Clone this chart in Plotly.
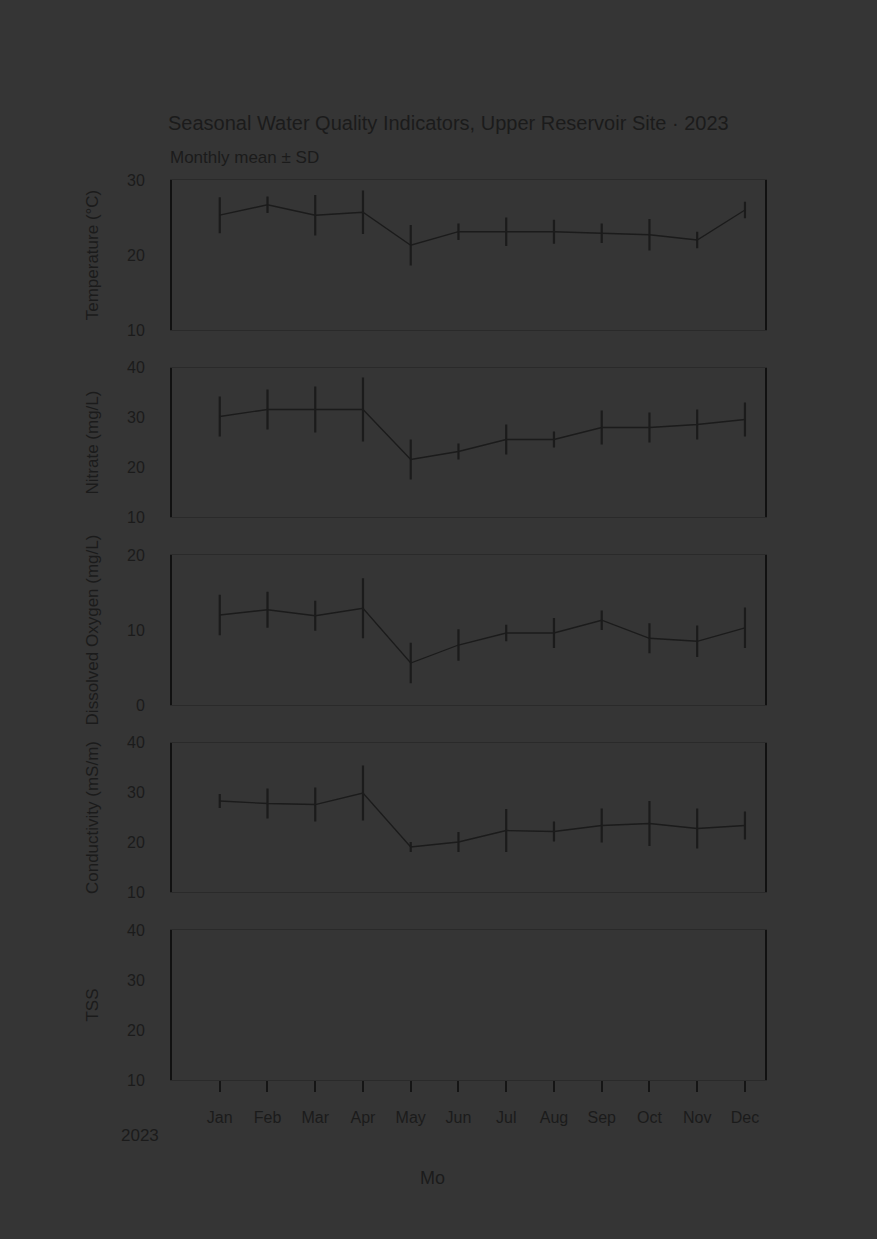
import plotly.graph_objects as go
from plotly.subplots import make_subplots

months = ["Jan", "Feb", "Mar", "Apr", "May", "Jun", "Jul", "Aug", "Sep", "Oct", "Nov", "Dec"]

temp_mean = [25.3, 26.7, 25.3, 25.7, 21.3, 23.1, 23.1, 23.1, 22.9, 22.7, 22.0, 26.0]
temp_sd = [2.4, 1.1, 2.7, 2.9, 2.7, 1.1, 1.9, 1.6, 1.3, 2.1, 1.1, 1.1]

nitrate_mean = [30.2, 31.6, 31.6, 31.6, 21.6, 23.2, 25.6, 25.6, 28.0, 28.0, 28.6, 29.6]
nitrate_sd = [4.0, 4.0, 4.6, 6.4, 4.0, 1.6, 3.0, 1.6, 3.4, 3.0, 3.0, 3.4]

do_mean = [12.0, 12.7, 11.9, 12.9, 5.6, 8.0, 9.6, 9.6, 11.3, 8.9, 8.5, 10.3]
do_sd = [2.7, 2.4, 2.0, 4.0, 2.7, 2.1, 1.1, 2.0, 1.3, 2.0, 2.1, 2.7]

cond_mean = [28.3, 27.8, 27.6, 29.9, 19.1, 20.1, 22.4, 22.2, 23.4, 23.8, 22.8, 23.4]
cond_sd = [1.4, 3.0, 3.4, 5.5, 1.0, 2.0, 4.3, 2.0, 3.4, 4.5, 4.0, 2.8]

tss_mean = [None] * 12
tss_sd = [None] * 12

y_titles = ["Temperature (°C)", "Nitrate (mg/L)", "Dissolved Oxygen (mg/L)", "Conductivity (mS/m)", "TSS"]
y_ticks = [[10, 20, 30], [10, 20, 30, 40], [0, 10, 20], [10, 20, 30, 40], [10, 20, 30, 40]]

title_text = "Seasonal Water Quality Indicators, Upper Reservoir Site · 2023"
subtitle_text = "Monthly mean ± SD"
year_label = "2023"
x_title = "Mo"

BG = "#353535"
INK = "#1b1b1b"
FONT = "Liberation Sans, Arial, sans-serif"

series = [(temp_mean, temp_sd), (nitrate_mean, nitrate_sd), (do_mean, do_sd),
          (cond_mean, cond_sd), (tss_mean, tss_sd)]

fig = make_subplots(rows=5, cols=1, shared_xaxes=True, vertical_spacing=0.0417)

for i, (m, s) in enumerate(series):
    fig.add_trace(go.Scatter(
        x=months, y=m, mode="lines",
        line=dict(color=INK, width=1.3),
        error_y=dict(type="data", array=s, visible=True, color=INK, thickness=2.2, width=0),
        showlegend=False, hoverinfo="skip"), row=i + 1, col=1)
    t = y_ticks[i]
    fig.update_yaxes(
        row=i + 1, col=1,
        range=[t[0], t[-1]], tickvals=t,
        showgrid=False, zeroline=False,
        showline=True, mirror=True, linecolor="#111111", linewidth=2,
        ticks="", ticklabelstandoff=22,
        tickfont=dict(size=16, color=INK, family=FONT),
        title=dict(text=y_titles[i], font=dict(size=17, color=INK, family=FONT), standoff=24),
    )

for i in range(5):
    fig.update_xaxes(
        row=i + 1, col=1,
        type="category", categoryorder="array", categoryarray=months,
        range=[-1.0, 11.42],
        showgrid=False, zeroline=False,
        showline=True, mirror=True, linecolor="#2a2a2a", linewidth=1,
    )
fig.update_xaxes(row=5, col=1, ticks="outside", ticklen=11, tickwidth=1.5, tickcolor="#151515",
                 ticklabelstandoff=12,
                 tickfont=dict(size=16, color=INK, family=FONT), showticklabels=True)

fig.update_layout(
    width=877, height=1239,
    paper_bgcolor=BG, plot_bgcolor=BG,
    margin=dict(l=172, r=112, t=180, b=159),
    font=dict(family=FONT, color=INK),
    hovermode=False,
    title=dict(text=title_text, x=168 / 877, xanchor="left", xref="container",
               y=1 - 123 / 1239, yanchor="middle", yref="container",
               font=dict(size=20, color=INK, family=FONT)),
    annotations=[
        dict(text=subtitle_text, xref="paper", yref="paper", showarrow=False,
             x=(168 - 172) / 593, xanchor="left", y=1 + (180 - 157) / 900, yanchor="middle",
             font=dict(size=17, color=INK, family=FONT)),
        dict(text=year_label, xref="paper", yref="paper", showarrow=False,
             x=(140 - 172) / 593, xanchor="center", y=-(1135 - 1080) / 900, yanchor="middle",
             font=dict(size=17, color=INK, family=FONT)),
        dict(text=x_title, xref="paper", yref="paper", showarrow=False,
             x=(432 - 172) / 593, xanchor="center", y=-(1178 - 1080) / 900, yanchor="middle",
             font=dict(size=18, color=INK, family=FONT)),
    ],
)

fig.write_html("out.html", config={"displayModeBar": False},
               post_script="document.body.style.margin='0';document.body.style.background='%s';"
                           "document.documentElement.style.background='%s';" % (BG, BG))
